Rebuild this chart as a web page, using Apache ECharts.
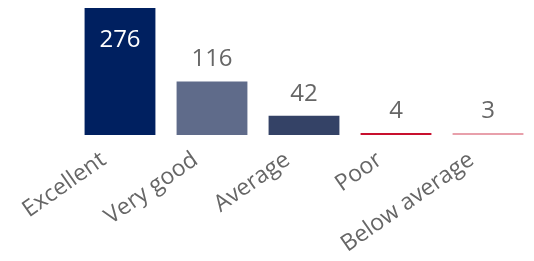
<!DOCTYPE html>
<html><head><meta charset="utf-8">
<script src="https://cdn.jsdelivr.net/npm/echarts@6/dist/echarts.min.js"></script>
<style>html,body{margin:0;padding:0;background:#fff}#c{width:534px;height:261px}</style>
</head><body><div id="c"></div>
<script>
const categories = ["Excellent", "Very good", "Average", "Poor", "Below average"];
const values = [276, 116, 42, 4, 3];
const colors = ["#002060", "#5f6b8a", "#344266", "#c8102e", "#e8a0ab"];

const chart = echarts.init(document.getElementById('c'));
const font = '"Segoe UI", "Open Sans", sans-serif';
chart.setOption({
  animation: false,
  grid: {left: 74, width: 460, top: 8, height: 127, containLabel: false},
  xAxis: {
    type: 'category', data: categories,
    axisLine: {show: false}, axisTick: {show: false},
    axisLabel: {rotate: 35, fontSize: 23, color: '#666666', fontFamily: font, margin: 11, padding: [0, 20, 0, 0], interval: 0}
  },
  yAxis: {type: 'value', min: 0, max: 276, show: false, splitLine: {show: false}},
  series: [{
    type: 'bar', barCategoryGap: '23%', barMinHeight: 2,
    data: values.map((v, i) => ({
      value: v,
      itemStyle: {color: colors[i]},
      label: i === 0 ? {position: 'insideTop', distance: 20, color: '#ffffff'} : {}
    })),
    label: {show: true, position: 'top', distance: 10, fontSize: 24, color: '#666666', fontFamily: font}
  }]
});
</script></body></html>
